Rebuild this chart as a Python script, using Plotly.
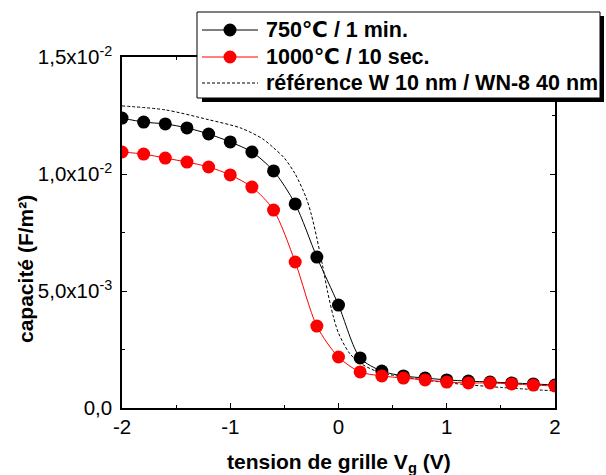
import plotly.graph_objects as go

# Gate voltage sweep (V)
vg = [-2.0, -1.8, -1.6, -1.4, -1.2, -1.0, -0.8, -0.6, -0.4, -0.2, 0.0,
      0.2, 0.4, 0.6, 0.8, 1.0, 1.2, 1.4, 1.6, 1.8, 2.0]

# Capacitance (F/m²) after 750 °C / 1 min anneal
cap_750 = [0.01239, 0.01222, 0.01214, 0.01197, 0.01171, 0.01137, 0.01094,
           0.01013, 0.00872, 0.00645, 0.00440, 0.00214, 0.00158, 0.00137,
           0.00128, 0.00120, 0.00115, 0.00111, 0.00107, 0.00103, 0.00098]

# Capacitance (F/m²) after 1000 °C / 10 s anneal
cap_1000 = [0.01094, 0.01085, 0.01068, 0.01051, 0.01030, 0.00996, 0.00944,
            0.00846, 0.00624, 0.00350, 0.00218, 0.00154, 0.00137, 0.00128,
            0.00120, 0.00111, 0.00107, 0.00107, 0.00103, 0.00098, 0.00094]

# Reference stack W 10 nm / WN-8 40 nm
vg_ref = [-2.0, -1.6, -1.2, -0.9, -0.7, -0.6, -0.5, -0.4, -0.3, -0.25, -0.2,
          -0.15, -0.1, -0.05, 0.0, 0.1, 0.2, 0.35, 0.5, 1.0, 1.5, 2.0]
cap_ref = [0.01291, 0.01274, 0.01232, 0.01196, 0.01150, 0.01112, 0.01068,
           0.01000, 0.00900, 0.00825, 0.00726, 0.00615, 0.00495, 0.00395,
           0.00320, 0.00235, 0.00192, 0.00157, 0.00140, 0.00108, 0.00088,
           0.00073]

names = ["750\u2103 / 1 min.", "1000\u2103 / 10 sec.",
         "référence W 10 nm / WN-8 40 nm"]

y_tickvals = [0, 0.005, 0.010, 0.015]
y_ticktext = ["0,0", "5,0x10<sup>-3</sup>", "1,0x10<sup>-2</sup>",
              "1,5x10<sup>-2</sup>"]
x_tickvals = [-2, -1, 0, 1, 2]

FONT = "Liberation Sans, Arial, DejaVu Sans, sans-serif"
W, H = 606, 475
ML, MR, MT, MB = 122, 51, 57, 67
PW, PH = W - ML - MR, H - MT - MB


def px(x):
    return (x - ML) / PW


def py(y):
    return (H - MB - y) / PH


fig = go.Figure()

fig.add_trace(go.Scatter(
    x=vg_ref, y=cap_ref, name=names[2], mode="lines",
    line=dict(color="black", width=1, dash="3px,2px", shape="spline",
              smoothing=0.8),
    showlegend=False))
fig.add_trace(go.Scatter(
    x=vg, y=cap_750, name=names[0], mode="lines+markers",
    line=dict(color="black", width=1, shape="spline", smoothing=0.8),
    marker=dict(color="black", size=13), showlegend=False))
fig.add_trace(go.Scatter(
    x=vg, y=cap_1000, name=names[1], mode="lines+markers",
    line=dict(color="#ff0000", width=1, shape="spline", smoothing=0.8),
    marker=dict(color="#ff0000", size=13), showlegend=False))

# Legend box with drop shadow
shapes = [
    dict(type="rect", xref="paper", yref="paper", layer="above",
         x0=px(202), x1=px(604), y0=py(102), y1=py(16),
         fillcolor="black", line=dict(width=0)),
    dict(type="rect", xref="paper", yref="paper", layer="above",
         x0=px(197), x1=px(600), y0=py(98), y1=py(12),
         fillcolor="white", line=dict(color="black", width=1)),
]
annotations = []
rows = [30, 57, 83]
styles = [("black", "solid", True), ("#ff0000", "solid", True),
          ("black", "3px,2px", False)]
for yrow, (col, dash, has_marker), label in zip(rows, styles, names):
    shapes.append(dict(type="line", xref="paper", yref="paper", layer="above",
                       x0=px(202), x1=px(258), y0=py(yrow), y1=py(yrow),
                       line=dict(color=col, width=1, dash=dash)))
    if has_marker:
        shapes.append(dict(type="circle", xref="paper", yref="paper",
                           layer="above", x0=px(223.5), x1=px(236.5),
                           y0=py(yrow + 6.5), y1=py(yrow - 6.5),
                           fillcolor=col, line=dict(color=col, width=0)))
    annotations.append(dict(xref="paper", yref="paper", x=px(264), y=py(yrow),
                            xanchor="left", yanchor="middle", showarrow=False,
                            text="<b>%s</b>" % label,
                            font=dict(family=FONT, size=21.5, color="black")))

# Axis titles
annotations.append(dict(xref="paper", yref="paper", x=px(339), y=py(463),
                        xanchor="center", yanchor="middle", showarrow=False,
                        text="<b>tension de grille V<sub>g</sub> (V)</b>",
                        font=dict(family=FONT, size=21, color="black")))
annotations.append(dict(xref="paper", yref="paper", x=px(25), y=py(269),
                        xanchor="center", yanchor="middle", showarrow=False,
                        textangle=-90, text="<b>capacité (F/m²)</b>",
                        font=dict(family=FONT, size=21, color="black")))

axis_common = dict(showline=True, linecolor="black", linewidth=1.5,
                   mirror="allticks", ticks="inside", tickcolor="black",
                   tickwidth=1.2, ticklen=5, showgrid=False, zeroline=False,
                   tickfont=dict(family=FONT, size=20.5, color="black"))

fig.update_xaxes(range=[-2, 2], tickvals=x_tickvals,
                 ticktext=[str(v) for v in x_tickvals],
                 minor=dict(ticks="inside", dtick=0.5, ticklen=3,
                            tickcolor="black", tickwidth=1.2),
                 **axis_common)
fig.update_yaxes(range=[0, 0.015], tickvals=y_tickvals, ticktext=y_ticktext,
                 minor=dict(ticks="inside", tickvals=[0.0025, 0.0075, 0.0125],
                            ticklen=3, tickcolor="black", tickwidth=1.2),
                 ticklabelstandoff=4, **axis_common)

fig.update_layout(width=W, height=H,
                  margin=dict(l=ML, r=MR, t=MT, b=MB),
                  paper_bgcolor="white", plot_bgcolor="white",
                  shapes=shapes, annotations=annotations,
                  font=dict(family=FONT, color="black"))

fig.write_html("out.html")
